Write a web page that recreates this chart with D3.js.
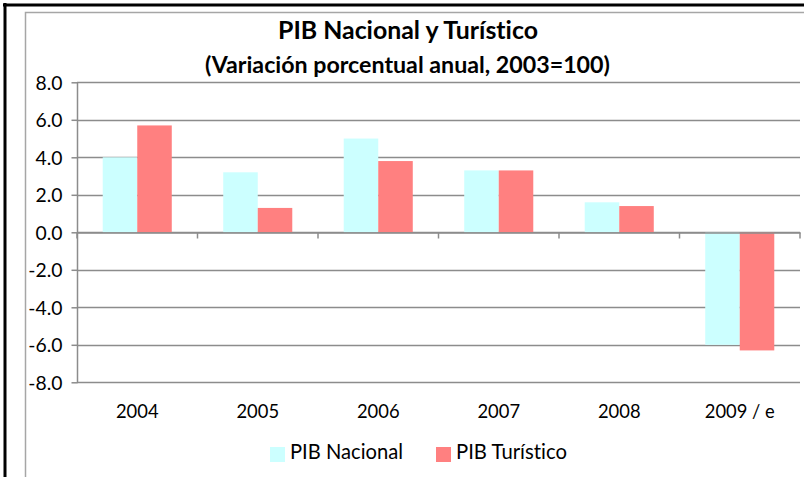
<!DOCTYPE html>
<html><head><meta charset="utf-8">
<script src="https://cdn.jsdelivr.net/npm/d3@7"></script>
<style>body{margin:0;background:#fff}svg{display:block}text{font-family:Lato,"Open Sans",sans-serif;fill:#000;font-variant-ligatures:none;font-feature-settings:"liga" 0,"clig" 0}</style>
</head><body><svg id="c" width="804" height="477"></svg>
<script>
const categories = ["2004","2005","2006","2007","2008","2009 / e"];
const seriesNames = ["PIB Nacional","PIB Turístico"];
const pibNacional = [4.0, 3.2, 5.0, 3.3, 1.6, -6.0];
const pibTuristico = [5.7, 1.3, 3.8, 3.3, 1.4, -6.3];
const yTicks = [-8,-6,-4,-2,0,2,4,6,8];
const colors = ["#CCFFFF","#FF8080"];

const svg = d3.select("#c");
function fit(sel, target){
  const n = sel.node(); const fs = parseFloat(sel.attr("font-size"));
  const w = n.getComputedTextLength();
  sel.attr("font-size", (fs*target/w).toFixed(2));
  return sel;
}
// frames
svg.append("rect").attr("x",25.5).attr("y",12.5).attr("width",800).attr("height",480)
  .attr("fill","none").attr("stroke","#a6a6a6").attr("stroke-width",1.5);
svg.append("line").attr("x1",3).attr("x2",804).attr("y1",5).attr("y2",5).attr("stroke","#000").attr("stroke-width",3);
svg.append("line").attr("x1",5).attr("x2",5).attr("y1",3).attr("y2",477).attr("stroke","#000").attr("stroke-width",3);

const x = d3.scaleBand().domain(categories).range([77,800]).padding(0);
const xs = d3.scaleBand().domain(seriesNames).range([x.bandwidth()*0.2135, x.bandwidth()*0.7865]).padding(0);
const y = d3.scaleLinear().domain([-8,8]).range([382.3,82.3]);

// gridlines
svg.append("g").selectAll("line").data(yTicks).join("line")
  .attr("x1",77).attr("x2",800).attr("y1",d=>Math.round(y(d))+0.5).attr("y2",d=>Math.round(y(d))+0.5)
  .attr("stroke","#8c8c8c").attr("stroke-width",1.5);

// bars
const data = categories.map((c,i)=>({c, v:[pibNacional[i], pibTuristico[i]]}));
const g = svg.append("g");
data.forEach(d=>{
  d.v.forEach((v,j)=>{
    g.append("rect").attr("x",x(d.c)+xs(seriesNames[j])).attr("width",xs.bandwidth())
      .attr("y",Math.min(y(v),y(0))).attr("height",Math.abs(y(v)-y(0)))
      .attr("fill",colors[j]);
  });
});

// y axis
const fmt = v => d3.format(".1f")(v).replace("\u2212","-");
const ya = svg.append("g").attr("transform","translate(77.5,0)")
  .call(d3.axisLeft(y).tickValues(yTicks).tickSize(6).tickPadding(9).tickFormat(fmt));
ya.select(".domain").attr("stroke","#8c8c8c").attr("stroke-width",1.5).attr("d","M0,"+y(8)+"V"+y(-8));
ya.selectAll(".tick line").attr("stroke","#8c8c8c").attr("stroke-width",1.5);
ya.selectAll(".tick text").attr("font-family","Lato").attr("font-size",17).attr("fill","#000").attr("dy","0.35em");
// size y labels so "8.0" is ~27px wide
const probe = ya.selectAll(".tick text").filter(d=>d===8);
const fsY = parseFloat(fit(probe,27).attr("font-size"));
ya.selectAll(".tick text").attr("font-size",fsY);

// x axis at zero
const xa = svg.append("g").attr("transform","translate(0,"+(Math.round(y(0))+0.5)+")")
  .call(d3.axisBottom(x).tickSize(0).tickFormat(""));
xa.select(".domain").attr("stroke","#8c8c8c").attr("stroke-width",1.5);
const bounds = categories.map(c=>x(c)).concat([x.range()[1]]);
xa.append("g").selectAll("line").data(bounds).join("line")
  .attr("x1",d=>d).attr("x2",d=>d).attr("y1",0).attr("y2",6).attr("stroke","#8c8c8c").attr("stroke-width",1.5);

// x labels
const xl = svg.append("g").selectAll("text").data(categories).join("text")
  .attr("x",d=>x(d)+x.bandwidth()/2).attr("y",418).attr("text-anchor","middle")
  .attr("font-size",17).text(d=>d);
const fsX = parseFloat(fit(xl.filter(d=>d==="2009 / e"),70).attr("font-size"));
xl.attr("font-size",fsX);

// titles
fit(svg.append("text").attr("x",408).attr("y",39).attr("text-anchor","middle").attr("font-weight","bold")
  .attr("font-size",22).text("PIB Nacional y Turístico"),260);
fit(svg.append("text").attr("x",407.5).attr("y",73).attr("text-anchor","middle").attr("font-weight","bold")
  .attr("font-size",19).text("(Variación porcentual anual, 2003=100)"),405);

// legend
const legX = [270, 436];
const legW = [113, 111];
const lg = svg.append("g");
seriesNames.forEach((s,j)=>{
  lg.append("rect").attr("x",legX[j]).attr("y",447).attr("width",15).attr("height",15).attr("fill",colors[j]);
  fit(lg.append("text").attr("x",legX[j]+20).attr("y",459).attr("font-size",17).text(s),legW[j]);
});
</script></body></html>
